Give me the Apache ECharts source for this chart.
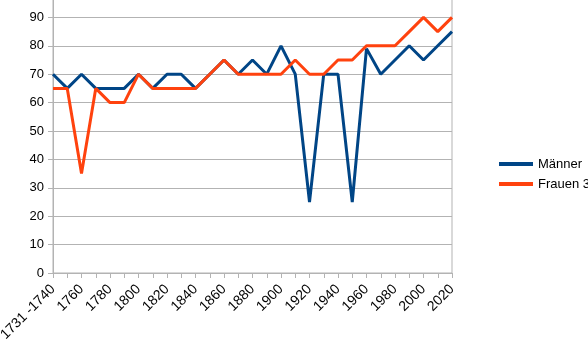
<!DOCTYPE html>
<html>
<head>
<meta charset="utf-8">
<script src="https://cdn.jsdelivr.net/npm/echarts@6/dist/echarts.min.js"></script>
<style>
html,body{margin:0;padding:0;background:#fff;}
#c{width:588px;height:363px;}
</style>
</head>
<body>
<div id="c"></div>
<script>
var categories = ["1731 -1740","1750","1760","1770","1780","1790","1800","1810","1820","1830","1840","1850","1860","1870","1880","1890","1900","1910","1920","1930","1940","1950","1960","1970","1980","1990","2000","2010","2020"];
var maenner = [70,65,70,65,65,65,70,65,70,70,65,70,75,70,75,70,80,70,25,70,70,25,79,70,75,80,75,80,85];
var frauen  = [65,65,35,65,60,60,70,65,65,65,65,70,75,70,70,70,70,75,70,70,75,75,80,80,80,85,90,85,90];
var seriesNames = ["Männer","Frauen 3"];
var yMin = 0, yMax = 100, yStep = 10;

var chart = echarts.init(document.getElementById('c'), null, {renderer:'canvas'});
var font = '"Liberation Sans", Arial, sans-serif';
chart.setOption({
  animation:false,
  backgroundColor:'#ffffff',
  textStyle:{fontFamily:font},
  grid:{left:53,right:136,top:-11,bottom:90,containLabel:false,outerBoundsMode:'none',show:true,borderColor:'#b3b3b3',borderWidth:1},
  legend:{
    orient:'vertical',left:494,top:152,itemGap:6,itemWidth:34,itemHeight:4,icon:'rect',
    textStyle:{fontSize:13,color:'#000',fontFamily:font,lineHeight:14},
    data:seriesNames
  },
  xAxis:{
    type:'category',data:categories,boundaryGap:false,
    axisLine:{lineStyle:{color:'#b3b3b3',width:1}},
    axisTick:{show:true,interval:0,length:5,lineStyle:{color:'#b3b3b3'}},
    axisLabel:{interval:1,rotate:45,margin:14,fontSize:14,color:'#000',fontFamily:font},
    splitLine:{show:false}
  },
  yAxis:{
    type:'value',min:yMin,max:yMax,interval:yStep,
    axisLine:{show:true,lineStyle:{color:'#b3b3b3'}},
    axisTick:{show:true,length:5,lineStyle:{color:'#b3b3b3'}},
    axisLabel:{margin:9,fontSize:13,color:'#000',fontFamily:font},
    splitLine:{show:true,lineStyle:{color:'#b3b3b3',width:1}}
  },
  series:[
    {name:seriesNames[0],type:'line',data:maenner,showSymbol:false,symbol:'none',color:'#004586',lineStyle:{width:3,color:'#004586'}},
    {name:seriesNames[1],type:'line',data:frauen,showSymbol:false,symbol:'none',color:'#ff420e',lineStyle:{width:3,color:'#ff420e'}}
  ]
});
</script>
</body>
</html>
